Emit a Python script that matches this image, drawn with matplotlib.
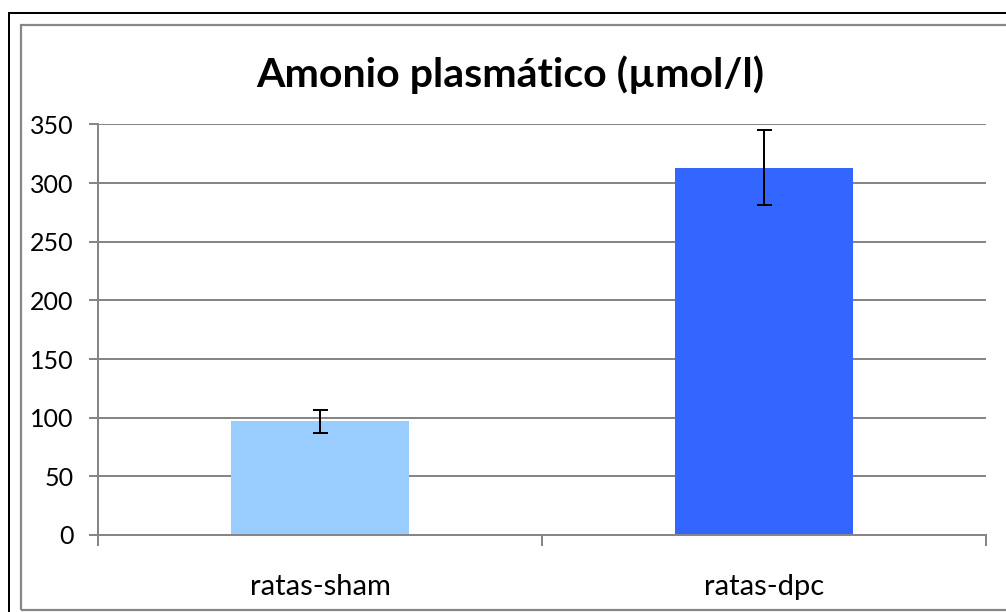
import matplotlib
matplotlib.use("Agg")
import matplotlib.pyplot as plt
from matplotlib.patches import Rectangle

# Plasma ammonia per group
categories = ["ratas-sham", "ratas-dpc"]
values = [97, 313]
errors = [10, 32]
bar_colors = ["#99CCFF", "#3366FF"]
y_ticks = [0, 50, 100, 150, 200, 250, 300, 350]
title = "Amonio plasmático (µmol/l)"

W, H, DPI = 1006, 612, 100
plt.rcParams["font.family"] = ["Lato", "DejaVu Sans"]

fig = plt.figure(figsize=(W / DPI, H / DPI), dpi=DPI)
fig.patch.set_facecolor("white")

px = 1.0 / DPI * 72  # points per pixel
grey = "#868686"

# Outer frames
fig.add_artist(Rectangle((9 / W, 1 - 1.5), 2.0, 1.5 - 13 / H, transform=fig.transFigure,
                         fill=False, edgecolor="black", linewidth=2 * px))
fig.add_artist(Rectangle((21 / W, 1 - 610 / H), 2.0, (610 - 25) / H, transform=fig.transFigure,
                         fill=False, edgecolor=grey, linewidth=2.2 * px))

left, right = 98 / W, 986 / W
bottom, top = 1 - 535 / H, 1 - 124.5 / H
ax = fig.add_axes([left, bottom, right - left, top - bottom])

x = list(range(len(categories)))
ax.bar(x, values, width=0.40, color=bar_colors, zorder=2)
ax.errorbar(x, values, yerr=errors, fmt="none", ecolor="black",
            elinewidth=2 * px, capsize=7.5 * px, capthick=2 * px, zorder=3)

ax.set_xlim(-0.5, len(categories) - 0.5)
ax.set_ylim(0, 350)
ax.set_yticks(y_ticks)
ax.set_yticklabels([str(t) for t in y_ticks])
ax.yaxis.grid(True, color=grey, linewidth=2 * px, zorder=1)
ax.set_axisbelow(True)

for s in ["top", "right"]:
    ax.spines[s].set_visible(False)
for s in ["left", "bottom"]:
    ax.spines[s].set_color(grey)
    ax.spines[s].set_linewidth(2 * px)

ax.tick_params(axis="y", direction="out", length=9 * px, width=2 * px, color=grey,
               labelsize=18, pad=11, labelcolor="black")

ax.set_xticks(x)
ax.set_xticklabels(categories)
ax.tick_params(axis="x", which="major", length=0, labelsize=21, pad=28, labelcolor="black")
ax.set_xticks([-0.5 + i for i in range(len(categories) + 1)], minor=True)
ax.tick_params(axis="x", which="minor", direction="out", length=11 * px, width=2 * px, color=grey)

fig.text(510 / W, 1 - 87 / H, title, ha="center", va="baseline",
         fontsize=29.5, fontweight="bold", color="black")

fig.savefig("out.png", dpi=DPI, facecolor="white")
